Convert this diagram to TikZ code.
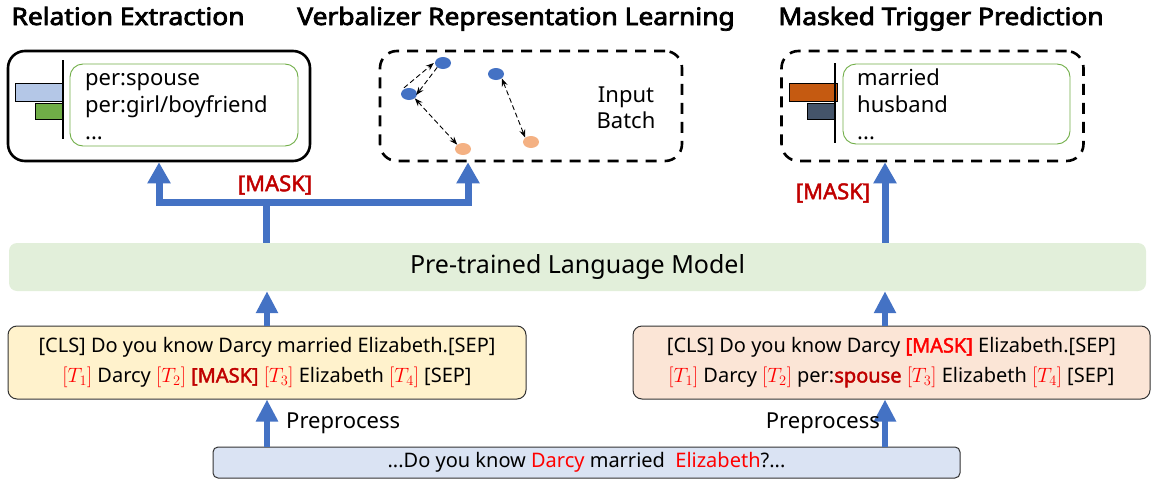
\documentclass[tikz,border=0pt]{standalone}
\usepackage{fontspec}
\setmainfont{Noto Sans}
\newfontfamily\heavysans{Noto Sans}[FakeBold=3]
\newfontfamily\boldsans{Noto Sans}[FakeBold=2]
\usetikzlibrary{arrows.meta,shapes.geometric,calc}
\definecolor{arrowblue}{HTML}{4472C4}
\definecolor{plmgreen}{HTML}{E2EFDA}
\definecolor{inyellow}{HTML}{FFF2CC}
\definecolor{inpeach}{HTML}{FBE5D6}
\definecolor{inblue}{HTML}{DAE3F3}
\definecolor{boxgreen}{HTML}{70AD47}
\definecolor{barblue}{HTML}{B4C7E7}
\definecolor{barorange}{HTML}{C55A11}
\definecolor{barslate}{HTML}{44546A}
\definecolor{dotorange}{HTML}{F4B183}
\definecolor{darkred}{HTML}{C00000}
\definecolor{brightred}{HTML}{FF0000}
\newcommand{\Tk}[1]{\textcolor{brightred}{$[T_{#1}]$}}
\newcommand{\bsf}[1]{{\boldsans #1}}
\newcommand{\wide}[1]{\scalebox{1.1}[1]{#1}}
\begin{document}
\begin{tikzpicture}[x=1pt,y=-1pt,
  title/.style={font=\fontsize{24}{26}\selectfont\heavysans, anchor=base, inner sep=0pt},
  solidbox/.style={draw=black, line width=2.6pt, rounded corners=17pt},
  dashbox/.style={draw=black, line width=2.6pt, rounded corners=17pt, dash pattern=on 11pt off 8pt},
  greenbox/.style={draw=boxgreen, line width=0.9pt, rounded corners=13pt},
  item/.style={font=\fontsize{22}{25}\selectfont, anchor=base west, inner sep=0pt},
  inbox/.style={draw=black!80, line width=1pt, rounded corners=9pt, align=center, font=\fontsize{20}{30}\selectfont},
  bigarrow/.style={draw=arrowblue, line width=7pt, line join=miter, -{Triangle[width=22pt,length=21pt]}},
  midarrow/.style={draw=arrowblue, line width=6pt, -{Triangle[width=21pt,length=22pt]}},
  maskred/.style={font=\fontsize{22}{24}\selectfont\boldsans, text=darkred, inner sep=0pt},
  bdot/.style={ellipse, fill=arrowblue, minimum width=16pt, minimum height=12pt, inner sep=0pt},
  odot/.style={ellipse, fill=dotorange, minimum width=16pt, minimum height=12pt, inner sep=0pt},
  darr/.style={draw=black, line width=0.9pt, dash pattern=on 5pt off 3pt, -{Stealth[length=8pt,width=6pt]}},
  dbar/.style={draw=black, line width=0.8pt},
]
\useasboundingbox (0,0) rectangle (1151,482);

% titles
\node[title] (t1) at (128,25) {\wide{Relation Extraction}};
\node[title] (t2) at (516,25) {\wide{Verbalizer Representation Learning}};
\node[title] (t3) at (941,25) {\wide{Masked Trigger Prediction}};

% Relation extraction box
\node[solidbox, minimum width=302pt, minimum height=110pt] (re) at (159,106) {};
\node[greenbox, minimum width=228pt, minimum height=82pt] (reg) at (184,105) {};
\draw[dbar, fill=barblue] (15,83) rectangle (63,101);
\draw[dbar, fill=boxgreen] (35,103) rectangle (63,119);
\draw[line width=1.6pt] (63,60) -- (63,139);
\node[item] (re1) at (85,85) {per:spouse};
\node[item] (re2) at (85,112) {per:girl/boyfriend};
\node[item] (re3) at (85,139) {...};

% Verbalizer box
\node[dashbox, minimum width=302pt, minimum height=110pt] (vrl) at (531,106) {};
\node[bdot] (b1) at (443,63) {};
\node[bdot] (b2) at (409,94) {};
\node[bdot] (b3) at (496,74) {};
\node[odot] (o1) at (463,149) {};
\node[odot] (o2) at (531,142) {};
\draw[darr] ([shift={(-5pt,0pt)}]b2.north) -- ([shift={(-1pt,0pt)}]b1.west);
\draw[darr] ([shift={(0pt,0pt)}]b1.south west) -- ([shift={(-1pt,-1pt)}]b2.east);
\draw[darr, {Stealth[length=8pt,width=6pt]}-{Stealth[length=8pt,width=6pt]}] (b2.south east) -- (o1.north west);
\draw[darr, {Stealth[length=8pt,width=6pt]}-{Stealth[length=8pt,width=6pt]}] (b3.south east) -- (o2.north west);
\node[font=\fontsize{22}{26}\selectfont, align=center] (ib) at (626,108) {Input\\Batch};

% Masked trigger box
\node[dashbox, minimum width=302pt, minimum height=110pt] (mtp) at (932.5,106) {};
\node[greenbox, minimum width=227pt, minimum height=80pt] (mtg) at (956.5,104) {};
\draw[dbar, fill=barorange] (789,83) rectangle (837,101);
\draw[dbar, fill=barslate] (807,103) rectangle (835,119);
\draw[line width=1.6pt] (835,63) -- (835,143);
\node[item] (m1) at (857,85) {married};
\node[item] (m2) at (857,112) {husband};
\node[item] (m3) at (857,139) {...};

% PLM
\node[fill=plmgreen, rounded corners=8pt, minimum width=1137pt, minimum height=48pt, font=\fontsize{25}{28}\selectfont] (plm) at (577.5,267) {Pre-trained Language Model};

% input boxes
\node[inbox, fill=inyellow, minimum width=518pt, minimum height=73pt] (in1) at (267,362.5)
  {[CLS] Do you know Darcy married Elizabeth.[SEP]\\
   \Tk{1} Darcy \Tk{2} \textcolor{darkred}{\bsf{[MASK]}} \Tk{3} Elizabeth \Tk{4} [SEP]};
\node[inbox, fill=inpeach, minimum width=517pt, minimum height=73pt] (in2) at (891.5,362.5)
  {[CLS] Do you know Darcy \textcolor{brightred}{\bsf{[MASK]}} Elizabeth.[SEP]\\
   \Tk{1} Darcy \Tk{2} per:\textcolor{darkred}{\bsf{spouse}} \Tk{3} Elizabeth \Tk{4} [SEP]};

% raw sentence
\node[inbox, fill=inblue, draw=black!80, rounded corners=5pt, minimum width=747pt, minimum height=31pt, font=\fontsize{20}{23}\selectfont] (raw) at (586.5,462.5)
  {...Do you know \textcolor{brightred}{Darcy} married \ \textcolor{brightred}{Elizabeth}?...};

% connectors
\coordinate (jl) at (159,202);
\coordinate (jm) at (266,202);
\coordinate (jr) at (468,202);
\coordinate (xl) at (267,0);
\coordinate (xr) at (885,0);
\draw[bigarrow, {Triangle[width=22pt,length=21pt]}-{Triangle[width=22pt,length=21pt]}] (re.south -| jl) -- (jl) -- (jr) -- (vrl.south -| jr);
\draw[draw=arrowblue, line width=7pt] (plm.north -| jm) -- ([yshift=3.5pt]jm);
\node[maskred] (mk1) at (275,185) {[MASK]};
\draw[bigarrow] (plm.north -| xr) -- (mtp.south -| xr);
\node[maskred] (mk2) at (833,193) {[MASK]};

\draw[midarrow] (in1.north -| xl) -- (plm.south -| xl);
\draw[midarrow] (in2.north -| xr) -- (plm.south -| xr);
\draw[midarrow] (raw.north -| xl) -- (in1.south -| xl);
\draw[midarrow] (raw.north -| xr) -- (in2.south -| xr);
\node[font=\fontsize{22}{25}\selectfont, anchor=west, inner sep=0pt] (pp1) at (286,423) {Preprocess};
\node[font=\fontsize{22}{25}\selectfont, anchor=east, inner sep=0pt] (pp2) at (880,423) {Preprocess};
\end{tikzpicture}
\end{document}
